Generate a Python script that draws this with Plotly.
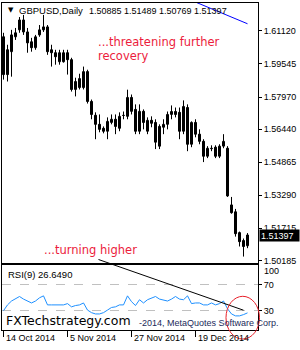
import plotly.graph_objects as go

# ---- data ----
bar_index = list(range(62))
opens = [1.6084, 1.6022, 1.6013, 1.6084, 1.6117, 1.6107, 1.6107, 1.6060, 1.6032, 1.6093,
         1.6117, 1.6131, 1.6022, 1.6008, 1.5965, 1.5965, 1.6008, 1.5975, 1.5833, 1.5842,
         1.5842, 1.5918, 1.5776, 1.5710, 1.5667, 1.5648, 1.5634, 1.5676, 1.5691, 1.5648,
         1.5710, 1.5705, 1.5795, 1.5738, 1.5634, 1.5729, 1.5634, 1.5686, 1.5676, 1.5657,
         1.5653, 1.5667, 1.5714, 1.5728, 1.5724, 1.5634, 1.5747, 1.5572, 1.5676, 1.5620,
         1.5586, 1.5515, 1.5553, 1.5558, 1.5515, 1.5563, 1.5553, 1.5283, 1.5250, 1.5151,
         1.5113, 1.50885]
highs = [1.6103, 1.6046, 1.6117, 1.6126, 1.6178, 1.6188, 1.6126, 1.6079, 1.6093, 1.6140,
         1.6188, 1.6140, 1.6046, 1.6022, 1.6022, 1.6022, 1.6022, 1.5984, 1.5889, 1.5908,
         1.5942, 1.5927, 1.5785, 1.5724, 1.5714, 1.5657, 1.5700, 1.5714, 1.5714, 1.5724,
         1.5728, 1.5832, 1.5809, 1.5762, 1.5762, 1.5738, 1.5700, 1.5705, 1.5691, 1.5667,
         1.5691, 1.5728, 1.5757, 1.5747, 1.5747, 1.5781, 1.5762, 1.5681, 1.5691, 1.5643,
         1.5596, 1.5563, 1.5567, 1.5567, 1.5572, 1.5620, 1.5563, 1.5321, 1.5264, 1.5156,
         1.5123, 1.51489]
lows = [1.5880, 1.5871, 1.5894, 1.6069, 1.6103, 1.6093, 1.6008, 1.6013, 1.6022, 1.6084,
        1.6107, 1.5998, 1.5942, 1.5951, 1.5951, 1.5961, 1.5904, 1.5823, 1.5800, 1.5833,
        1.5833, 1.5766, 1.5691, 1.5596, 1.5629, 1.5624, 1.5596, 1.5667, 1.5620, 1.5634,
        1.5691, 1.5691, 1.5714, 1.5620, 1.5620, 1.5643, 1.5620, 1.5653, 1.5549, 1.5549,
        1.5620, 1.5643, 1.5691, 1.5700, 1.5596, 1.5620, 1.5539, 1.5558, 1.5605, 1.5572,
        1.5487, 1.5506, 1.5539, 1.5506, 1.5506, 1.5553, 1.5321, 1.5241, 1.5132, 1.5085,
        1.5037, 1.50769]
closes = [1.5904, 1.5904, 1.6093, 1.6103, 1.6164, 1.6164, 1.6055, 1.6032, 1.6084, 1.6117,
          1.6131, 1.6013, 1.6008, 1.5989, 1.6008, 1.6008, 1.5975, 1.5833, 1.5871, 1.5885,
          1.5918, 1.5776, 1.5714, 1.5667, 1.5643, 1.5634, 1.5681, 1.5691, 1.5657, 1.5705,
          1.5709, 1.5795, 1.5729, 1.5634, 1.5729, 1.5676, 1.5686, 1.5672, 1.5582, 1.5563,
          1.5667, 1.5714, 1.5728, 1.5714, 1.5634, 1.5752, 1.5572, 1.5676, 1.5620, 1.5586,
          1.5515, 1.5553, 1.5551, 1.5515, 1.5563, 1.5586, 1.5326, 1.5246, 1.5146, 1.5108,
          1.5085, 1.51397]
rsi9 = [30, 39, 45, 48, 52, 48, 45, 42, 45, 50,
        53, 39, 39, 39, 38, 39, 41, 36, 38, 39,
        42, 31, 27, 25, 25, 27, 31, 35, 36, 39,
        39, 53, 44, 38, 47, 42, 47, 50, 52, 48,
        47, 45, 48, 52, 48, 47, 53, 41, 42, 42,
        39, 39, 42, 39, 41, 45, 33, 25, 22, 22,
        24, 26.649]

price_ticks = [1.61120, 1.59545, 1.57970, 1.56440, 1.54865, 1.53290, 1.51715, 1.50185]
price_tick_text = ["1.61120", "1.59545", "1.57970", "1.56440", "1.54865", "1.53290", "1.51715", "1.50185"]
rsi_ticks = [70, 30]
date_tick_index = [0, 16, 32, 48]
date_tick_text = ["14 Oct 2014", "5 Nov 2014", "27 Nov 2014", "19 Dec 2014"]

blue_trend_x = [40, 61]
blue_trend_y = [1.6313, 1.6146]
rsi_trend_x = [23.75, 60]

last_price = 1.51397

W, H = 300, 350
def py(px):
    return 1 - px / H
def pxx(px):
    return px / W

FONT = "Liberation Sans"
RED = "#EC1C3C"
XR = [-0.375, 63.625]

fig = go.Figure()

# wicks
wx, wy = [], []
for i, lo, hi in zip(bar_index, lows, highs):
    wx += [i, i, None]
    wy += [lo, hi, None]
fig.add_trace(go.Scatter(x=wx, y=wy, mode="lines", line=dict(color="black", width=1),
                         showlegend=False, xaxis="x", yaxis="y", hoverinfo="skip"))

# bodies
up_x, up_base, up_h, dn_x, dn_base, dn_h = [], [], [], [], [], []
for i, o, c in zip(bar_index, opens, closes):
    h = max(abs(c - o), 0.00006)
    if c >= o:
        up_x.append(i); up_base.append(min(o, c)); up_h.append(h)
    else:
        dn_x.append(i); dn_base.append(min(o, c)); dn_h.append(h)
fig.add_trace(go.Bar(x=up_x, y=up_h, base=up_base, width=0.5,
                     marker=dict(color="white", line=dict(color="black", width=1)),
                     showlegend=False, xaxis="x", yaxis="y", hoverinfo="skip"))
fig.add_trace(go.Bar(x=dn_x, y=dn_h, base=dn_base, width=0.5,
                     marker=dict(color="black", line=dict(color="black", width=1)),
                     showlegend=False, xaxis="x", yaxis="y", hoverinfo="skip"))

fig.add_trace(go.Scatter(
    x=blue_trend_x, y=blue_trend_y, mode="lines",
    line=dict(color="#0000FF", width=1), showlegend=False, xaxis="x", yaxis="y",
))
fig.add_trace(go.Scatter(
    x=bar_index, y=rsi9, mode="lines",
    line=dict(color="#1E90FF", width=1), showlegend=False, xaxis="x2", yaxis="y2",
))

axis_common = dict(showline=True, mirror=True, linecolor="black", linewidth=1,
                   showgrid=False, zeroline=False)

fig.update_layout(
    width=W, height=H, margin=dict(l=0, r=0, t=0, b=0),
    paper_bgcolor="white", plot_bgcolor="white",
    font=dict(family=FONT, size=9, color="black"),
    barmode="overlay",
    xaxis=dict(domain=[pxx(2), pxx(258)], range=XR, anchor="y",
               showticklabels=False, ticks="", **axis_common),
    yaxis=dict(domain=[py(265), py(3)], range=[1.5004, 1.6245], side="right", anchor="x",
               tickvals=price_ticks, ticktext=price_tick_text, ticks="outside", ticklen=3,
               tickcolor="black", tickfont=dict(size=9, family=FONT), **axis_common),
    xaxis2=dict(domain=[pxx(2), pxx(258)], range=XR, anchor="y2", matches="x",
                tickvals=date_tick_index, ticks="outside", ticklen=6, tickcolor="black",
                showticklabels=False, **axis_common),
    yaxis2=dict(domain=[py(332), py(267)], range=[0, 100], side="right", anchor="x2",
                tickvals=rsi_ticks, ticks="outside", ticklen=3, tickcolor="black",
                tickfont=dict(size=9, family=FONT),
                showline=True, mirror=True, linecolor="black", linewidth=1,
                showgrid=True, gridcolor="#C0C0C0", griddash="dash", gridwidth=1, zeroline=False),
    hovermode=False,
)

ann = []
ann.append(dict(text="▼", x=pxx(6), y=py(10.5), xref="paper", yref="paper", xanchor="left",
                yanchor="middle", showarrow=False, font=dict(family="DejaVu Sans", size=7, color="black")))
ann.append(dict(text="GBPUSD,Daily", x=pxx(17), y=py(11),
                xref="paper", yref="paper", xanchor="left", yanchor="middle", showarrow=False,
                font=dict(family=FONT, size=9.5, color="black")))
ann.append(dict(text="1.50885 1.51489 1.50769 1.51397", x=pxx(87), y=py(11),
                xref="paper", yref="paper", xanchor="left", yanchor="middle", showarrow=False,
                font=dict(family=FONT, size=9, color="black")))
ann.append(dict(text="...threatening further", x=pxx(96), y=py(42), xref="paper", yref="paper",
                xanchor="left", yanchor="middle", showarrow=False,
                font=dict(family="DejaVu Sans", size=11.5, color=RED)))
ann.append(dict(text="recovery", x=pxx(96), y=py(56), xref="paper", yref="paper",
                xanchor="left", yanchor="middle", showarrow=False,
                font=dict(family="DejaVu Sans", size=11.5, color=RED)))
ann.append(dict(text="...turning higher", x=pxx(42), y=py(251), xref="paper", yref="paper",
                xanchor="left", yanchor="middle", showarrow=False,
                font=dict(family="DejaVu Sans", size=11.5, color=RED)))
ann.append(dict(text="RSI(9) 26.6490", x=pxx(6), y=py(276.5), xref="paper", yref="paper",
                xanchor="left", yanchor="middle", showarrow=False,
                font=dict(family=FONT, size=9.5, color="black")))
ann.append(dict(text="FXTechstrategy.com", x=pxx(4), y=py(322), xref="paper", yref="paper",
                xanchor="left", yanchor="middle", showarrow=False,
                font=dict(family="DejaVu Sans", size=12.5, color="black")))
ann.append(dict(text="-2014, MetaQuotes Software Corp.", x=pxx(137), y=py(325), xref="paper",
                yref="paper", xanchor="left", yanchor="middle", showarrow=False,
                font=dict(family=FONT, size=9, color="#1C2A5A")))
ann.append(dict(text="100", x=pxx(262), y=py(273), xref="paper", yref="paper",
                xanchor="left", yanchor="middle", showarrow=False,
                font=dict(family=FONT, size=9, color="black")))
ann.append(dict(text="1.51397", x=pxx(259), y=last_price, xref="paper", yref="y",
                xanchor="left", yanchor="middle", showarrow=False, bgcolor="black",
                width=37, height=9, align="left", borderpad=1,
                font=dict(family=FONT, size=9, color="white")))
for xi, lab in zip(date_tick_index, date_tick_text):
    ann.append(dict(text=lab, x=xi, y=py(340), xref="x2", yref="paper", xanchor="left",
                    yanchor="middle", showarrow=False, xshift=0,
                    font=dict(family=FONT, size=9, color="black")))
fig.update_layout(annotations=ann)

fig.update_layout(shapes=[
    dict(type="line", xref="x2", yref="paper", x0=rsi_trend_x[0], x1=rsi_trend_x[1],
         y0=py(261), y1=py(312), line=dict(color="black", width=1)),
    dict(type="circle", xref="paper", yref="paper", x0=pxx(226), x1=pxx(259.5),
         y0=py(341), y1=py(298), line=dict(color="#E8202A", width=1)),
])

fig.write_html("out.html")
